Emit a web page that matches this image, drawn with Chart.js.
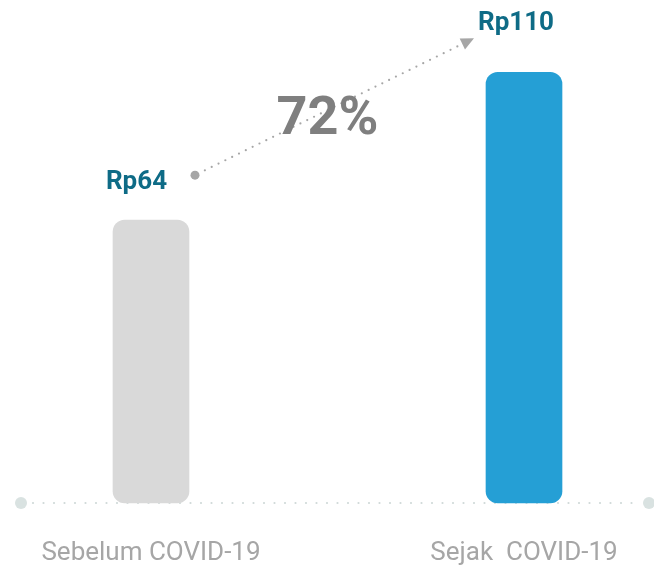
<!DOCTYPE html>
<html>
<head>
<meta charset="utf-8">
<script src="https://cdn.jsdelivr.net/npm/chart.js@4.4.0/dist/chart.umd.min.js"></script>
<style>
  html, body { margin: 0; padding: 0; background: #fff; }
  #wrap { width: 654px; height: 567px; }
</style>
</head>
<body>
<div id="wrap"><canvas id="chart01"></canvas></div>
<script>
const labels = ['Sebelum COVID-19', 'Sejak  COVID-19']
const values = [64, 110]
const valueLabels = ['Rp64', 'Rp110']
const growthLabel = '72%'
const barColors = ['#d9d9d9', '#259fd5']
const yMin = -24
const yMax = 130

const ctx1 = document.getElementById('chart01')

// garis dasar bertitik + panah kenaikan + label nilai
const extras = {
  id: 'extras',
  beforeDatasetsDraw(chart) {
    const c = chart.ctx
    const area = chart.chartArea
    const y = area.bottom
    const x0 = 21, x1 = 649
    c.save()
    c.fillStyle = '#cfd9d8'
    for (let x = x0 + 12; x < x1 - 8; x += 10.5) {
      c.beginPath()
      c.arc(x, y, 1.1, 0, Math.PI * 2)
      c.fill()
    }
    c.fillStyle = '#d9e2e1'
    c.beginPath(); c.arc(x0, y, 6, 0, Math.PI * 2); c.fill()
    c.beginPath(); c.arc(x1, y, 6, 0, Math.PI * 2); c.fill()
    c.restore()
  },
  afterDatasetsDraw(chart) {
    const c = chart.ctx
    const bars = chart.getDatasetMeta(0).data
    const b0 = bars[0], b1 = bars[1]
    const sx = b0.x + b0.width / 2 + 6, sy = b0.y - 45
    const ex = b1.x - b1.width / 2 - 12, ey = b1.y - 34
    c.save()
    // arrow dots
    c.fillStyle = '#a6a6a6'
    c.beginPath(); c.arc(sx, sy, 4.5, 0, Math.PI * 2); c.fill()
    const len = Math.hypot(ex - sx, ey - sy)
    const ux = (ex - sx) / len, uy = (ey - sy) / len
    for (let d = 11; d < len - 10; d += 7.6) {
      c.beginPath()
      c.arc(sx + ux * d, sy + uy * d, 1.1, 0, Math.PI * 2)
      c.fill()
    }
    // arrow head
    const hl = 13, hw = 6
    const bx = ex - ux * hl, by = ey - uy * hl
    c.beginPath()
    c.moveTo(ex, ey)
    c.lineTo(bx - uy * hw, by + ux * hw)
    c.lineTo(bx + uy * hw, by - ux * hw)
    c.closePath()
    c.fill()
    // growth text
    c.fillStyle = '#7f7f7f'
    c.font = 'bold 54px Roboto'
    c.textAlign = 'center'
    c.textBaseline = 'middle'
    c.fillText(growthLabel, (sx + ex) / 2 - 7, (sy + ey) / 2 + 14)
    // value labels
    c.fillStyle = '#0e6b86'
    c.font = 'bold 26px Roboto'
    c.fillText(valueLabels[0], b0.x - 14.5, b0.y - 38)
    c.fillText(valueLabels[1], b1.x - 8, b1.y - 49)
    c.restore()
  }
}

new Chart(ctx1, {
  type: 'bar',
  data: {
    labels: labels,
    datasets: [{
      data: values,
      backgroundColor: barColors,
      borderRadius: 12,
      borderSkipped: false,
      barThickness: 76,
      base: yMin,
      clip: false
    }]
  },
  options: {
    responsive: true,
    maintainAspectRatio: false,
    animation: false,
    layout: {
      padding: { left: 151, right: 130, top: 8, bottom: 0 }
    },
    plugins: {
      legend: { display: false },
      tooltip: { enabled: false }
    },
    scales: {
      x: {
        offset: false,
        grid: { display: false, drawTicks: false },
        border: { display: false },
        ticks: {
          color: '#a6a6a6',
          font: { family: 'Roboto', size: 26 },
          padding: 35,
          maxRotation: 0,
          autoSkip: false
        },
        afterFit(scale) { scale.height = 64 }
      },
      y: {
        display: false,
        min: yMin,
        max: yMax
      }
    }
  },
  plugins: [extras]
})
</script>
</body>
</html>
